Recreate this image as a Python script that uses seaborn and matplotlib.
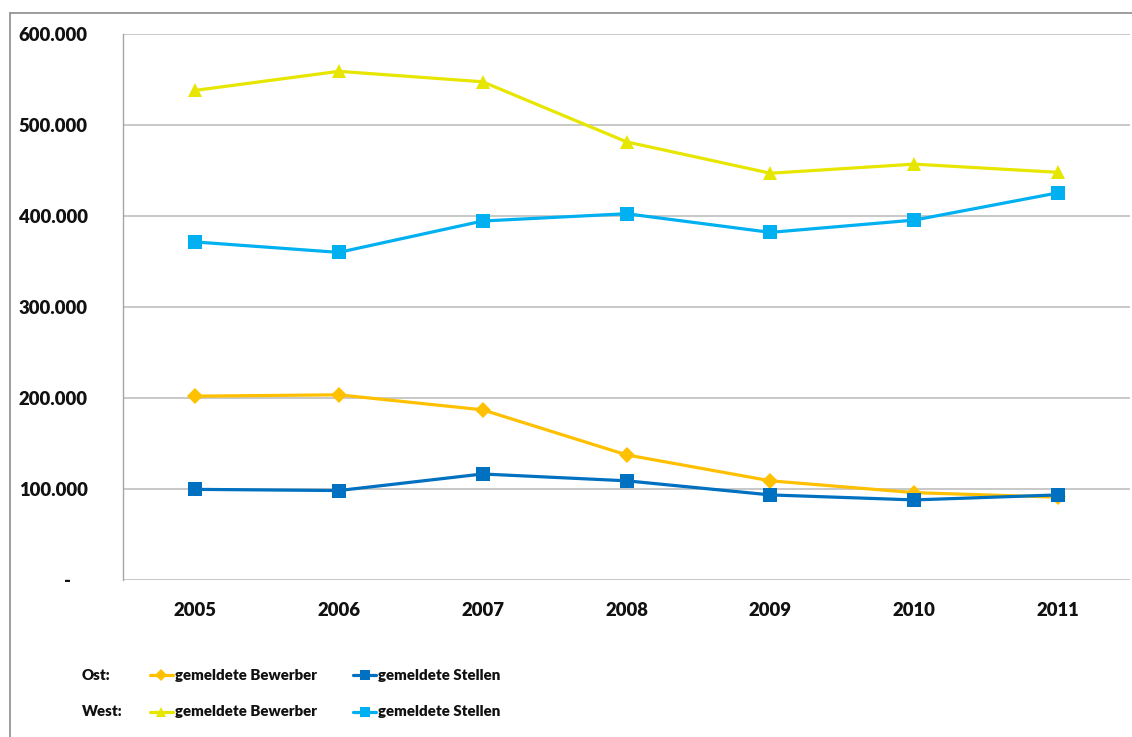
import numpy as np
import pandas as pd
import seaborn as sns
import matplotlib
matplotlib.use("Agg")
import matplotlib.pyplot as plt
from matplotlib.lines import Line2D

# Jahre und gemeldete Werte (Ost / West)
years = ["2005", "2006", "2007", "2008", "2009", "2010", "2011"]
ost_bewerber = [202000, 203500, 187000, 137500, 109000, 96000, 91000]
ost_stellen = [99600, 98300, 116500, 109000, 93500, 88000, 93500]
west_bewerber = [538000, 559000, 547500, 481500, 447000, 457000, 448000]
west_stellen = [371500, 360000, 394500, 402500, 382000, 395500, 425500]

series_names = ["Ost Bewerber", "Ost Stellen", "West Bewerber", "West Stellen"]
series_values = [ost_bewerber, ost_stellen, west_bewerber, west_stellen]

styles = {
    "Ost Bewerber": dict(color="#FFC000", marker="D", ms=8),
    "Ost Stellen": dict(color="#0070C0", marker="s", ms=9.5),
    "West Bewerber": dict(color="#E6E600", marker="^", ms=10.5),
    "West Stellen": dict(color="#00B0F0", marker="s", ms=9.5),
}

df = pd.DataFrame({
    "pos": np.tile(np.arange(len(years)), len(series_names)),
    "wert": np.concatenate(series_values),
    "serie": np.repeat(series_names, len(years)),
})

sns.set_theme(style="white")
plt.rcParams["font.family"] = ["Lato", "DejaVu Sans"]
FW = "heavy"

fig = plt.figure(figsize=(11.32, 7.37), dpi=100)
W, H = 1132, 737
ax = fig.add_axes([123 / W, 1 - 580 / H, (1130 - 123) / W, (580 - 34) / H])

for name in series_names:
    st = styles[name]
    sns.lineplot(data=df[df["serie"] == name], x="pos", y="wert", ax=ax,
                 color=st["color"], marker=st["marker"], markersize=st["ms"],
                 markeredgewidth=0, linewidth=2.3, legend=False, zorder=3)

ax.set_xlim(-0.5, len(years) - 0.5)
ax.set_ylim(0, 600000)
ax.set_xlabel("")
ax.set_ylabel("")

yt = np.arange(0, 600001, 100000)
ax.set_yticks(yt)
ax.set_yticklabels(["-    " if v == 0 else f"{v:,.0f}".replace(",", ".") for v in yt],
                   fontsize=13.3, fontweight=FW, color="#111111")
ax.set_xticks(np.arange(len(years)))
ax.set_xticklabels(years, fontsize=13.3, fontweight=FW, color="#111111")

# Kategoriegrenzen als Teilstriche
ax.set_xticks(np.arange(-0.5, len(years)), minor=True)
ax.tick_params(axis="x", which="major", length=0, pad=16)
ax.tick_params(axis="x", which="minor", length=5, width=1, color="#A6A6A6", direction="out")
ax.tick_params(axis="y", which="major", length=4.5, width=1, color="#A6A6A6",
               direction="out", pad=21)

ax.yaxis.grid(True, color="#BFBFBF", linewidth=1.2)
ax.xaxis.grid(False)
for side in ["top", "right", "bottom"]:
    ax.spines[side].set_visible(False)
ax.spines["left"].set_color("#A6A6A6")
ax.spines["left"].set_linewidth(1)
ax.spines["left"].set_bounds(0, 600000)

# Rahmen des Diagrammbereichs
fig.add_artist(Line2D([10 / W, 10 / W], [0, 1 - 12.5 / H], transform=fig.transFigure,
                      color="#8C8C8C", linewidth=1.2))
fig.add_artist(Line2D([10 / W, 1], [1 - 12.5 / H, 1 - 12.5 / H], transform=fig.transFigure,
                      color="#8C8C8C", linewidth=1.2))

# Legende
legend_rows = [("Ost:", 675, "Ost Bewerber", "Ost Stellen"),
               ("West:", 712, "West Bewerber", "West Stellen")]
for label, yp, s1, s2 in legend_rows:
    yf = 1 - yp / H
    fig.text(82 / W, yf, label, fontsize=10.8, fontweight=FW, va="center", ha="left",
             color="#111111")
    for x0, name in [(150, s1), (353, s2)]:
        st = styles[name]
        fig.add_artist(Line2D([x0 / W, (x0 + 23) / W], [yf, yf], transform=fig.transFigure,
                              color=st["color"], linewidth=2.3))
        fig.add_artist(Line2D([(x0 + 11.5) / W], [yf], transform=fig.transFigure,
                              color=st["color"], marker=st["marker"],
                              markersize=st["ms"] * 0.75, markeredgewidth=0, linestyle=""))
        text = "gemeldete Bewerber" if "Bewerber" in name else "gemeldete Stellen"
        fig.text((x0 + 25) / W, yf, text, fontsize=10.8, fontweight=FW,
                 va="center", ha="left", color="#111111")

fig.savefig("out.png", dpi=100)
